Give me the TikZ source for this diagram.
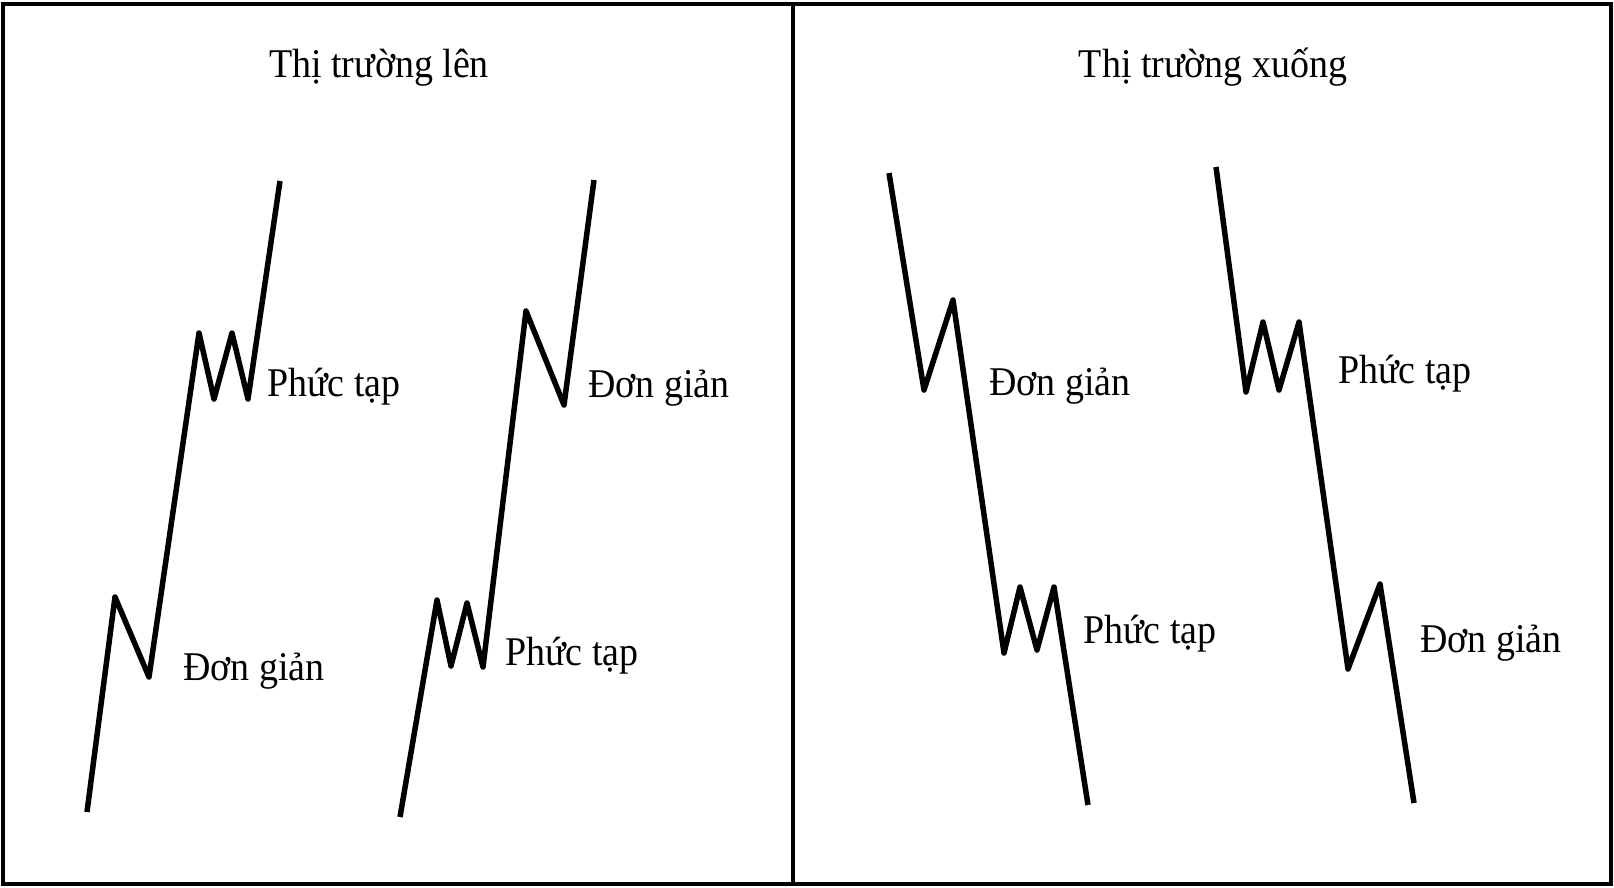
\documentclass[tikz,border=0pt]{standalone}
\usepackage{fontspec}
\setmainfont{Liberation Serif}
\tikzset{
  duong/.style={line width=5.5pt,line join=round},
  khung/.style={line width=4pt},
  nhan/.style={anchor=base west,inner sep=0pt,xscale=0.93,font=\fontsize{40.8}{48}\selectfont},
  tieude/.style={anchor=base,inner sep=0pt,xscale=0.93,font=\fontsize{40.8}{48}\selectfont},
}
\begin{document}
\begin{tikzpicture}[x=1pt,y=-1pt]
  \useasboundingbox (0,0) rectangle (1614,887);
  \draw[khung] (3,4) rectangle (1611,884);
  \draw[khung] (793,4) -- (793,884);
  \begin{scope}
    \node[tieude] (len) at (379,77) {Thị trường lên};
    \draw[duong] (87,812) -- (115,597) -- (149,677) -- (199,333) -- (214,399)
      -- (232,333) -- (248,399) -- (280,181);
    \node[nhan] (a1) at (183,680) {Đơn giản};
    \node[nhan] (a2) at (267,396) {Phức tạp};
    \draw[duong] (400,817) -- (437,600) -- (451,666) -- (467,603) -- (483,667)
      -- (526,311) -- (564,405) -- (594,180);
    \node[nhan] (b1) at (505,665) {Phức tạp};
    \node[nhan] (b2) at (588,397) {Đơn giản};
  \end{scope}
  \begin{scope}
    \node[tieude] (xuong) at (1213,77) {Thị trường xuống};
    \draw[duong] (889,173) -- (924,390) -- (953,300) -- (1004,653) -- (1020,587)
      -- (1037,650) -- (1054,587) -- (1088,805);
    \node[nhan] (c1) at (989,395) {Đơn giản};
    \node[nhan] (c2) at (1083,643) {Phức tạp};
    \draw[duong] (1216,167) -- (1246,392) -- (1263,322) -- (1279,390) -- (1299,322)
      -- (1348,669) -- (1380,584) -- (1414,803);
    \node[nhan] (d1) at (1338,383) {Phức tạp};
    \node[nhan] (d2) at (1420,652) {Đơn giản};
  \end{scope}
\end{tikzpicture}
\end{document}
